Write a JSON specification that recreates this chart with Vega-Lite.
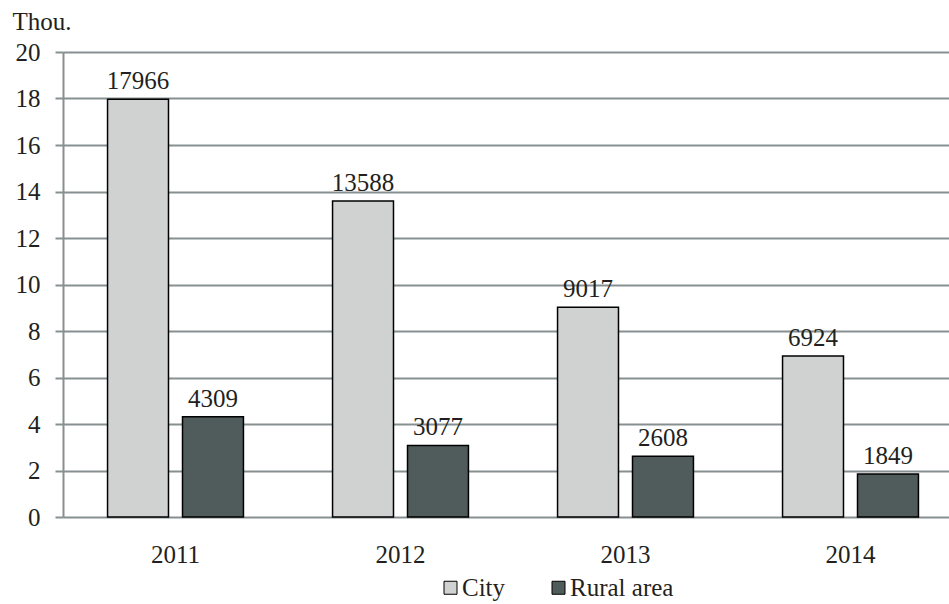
{
  "$schema": "https://vega.github.io/schema/vega-lite/v6.json",
  "autosize": {"type": "none"},
  "width": 900,
  "height": 465,
  "padding": {"left": 63, "top": 52, "right": 0, "bottom": 87},
  "background": "white",
  "data": {
    "values": [
      {"year": "2011", "type": "City", "value": 17966},
      {"year": "2011", "type": "Rural area", "value": 4309},
      {"year": "2012", "type": "City", "value": 13588},
      {"year": "2012", "type": "Rural area", "value": 3077},
      {"year": "2013", "type": "City", "value": 9017},
      {"year": "2013", "type": "Rural area", "value": 2608},
      {"year": "2014", "type": "City", "value": 6924},
      {"year": "2014", "type": "Rural area", "value": 1849}
    ]
  },
  "encoding": {
    "x": {
      "field": "year", "type": "nominal",
      "scale": {"paddingInner": 0.396, "paddingOuter": 0.198},
      "axis": {
        "title": null, "labelAngle": 0, "ticks": false, "domain": false,
        "labelPadding": 25, "grid": false
      }
    },
    "xOffset": {
      "field": "type", "type": "nominal",
      "scale": {"paddingInner": 0.187, "paddingOuter": 0}
    },
    "y": {
      "field": "value", "type": "quantitative",
      "scale": {"domain": [0, 20000], "nice": false},
      "axis": {
        "values": [0, 2000, 4000, 6000, 8000, 10000, 12000, 14000, 16000, 18000, 20000],
        "labelExpr": "datum.value / 1000",
        "title": "Thou.", "titleAngle": 0, "titleAlign": "left", "titleBaseline": "alphabetic",
        "titleX": -51, "titleY": -23,
        "labelPadding": 15, "tickSize": 8, "tickColor": "#879090", "tickWidth": 2,
        "domainColor": "#879090", "domainWidth": 2,
        "grid": true, "gridColor": "#879090", "gridWidth": 2
      }
    }
  },
  "layer": [
    {
      "mark": {"type": "bar", "stroke": "#000000", "strokeWidth": 1.5},
      "encoding": {
        "fill": {
          "field": "type", "type": "nominal",
          "scale": {"domain": ["City", "Rural area"], "range": ["#d0d2d2", "#505b5b"]},
          "legend": {
            "title": null, "orient": "none", "direction": "horizontal",
            "legendX": 375, "legendY": 523,
            "symbolType": "square", "symbolSize": 169, "symbolStrokeColor": "#000000",
            "symbolStrokeWidth": 1, "symbolOpacity": 1,
            "labelOffset": -1, "columnPadding": 40
          }
        }
      }
    },
    {
      "mark": {"type": "text", "baseline": "alphabetic", "dy": -10},
      "encoding": {"text": {"field": "value", "type": "quantitative", "format": "d"}}
    }
  ],
  "config": {
    "view": {"stroke": null},
    "font": "Liberation Serif",
    "text": {"font": "Liberation Serif", "fontSize": 25, "color": "#231f20"},
    "axis": {
      "labelFont": "Liberation Serif", "labelFontSize": 25, "labelColor": "#231f20",
      "titleFont": "Liberation Serif", "titleFontSize": 25, "titleFontWeight": "normal", "titleColor": "#231f20"
    },
    "legend": {"labelFont": "Liberation Serif", "labelFontSize": 25, "labelColor": "#231f20"}
  }
}
